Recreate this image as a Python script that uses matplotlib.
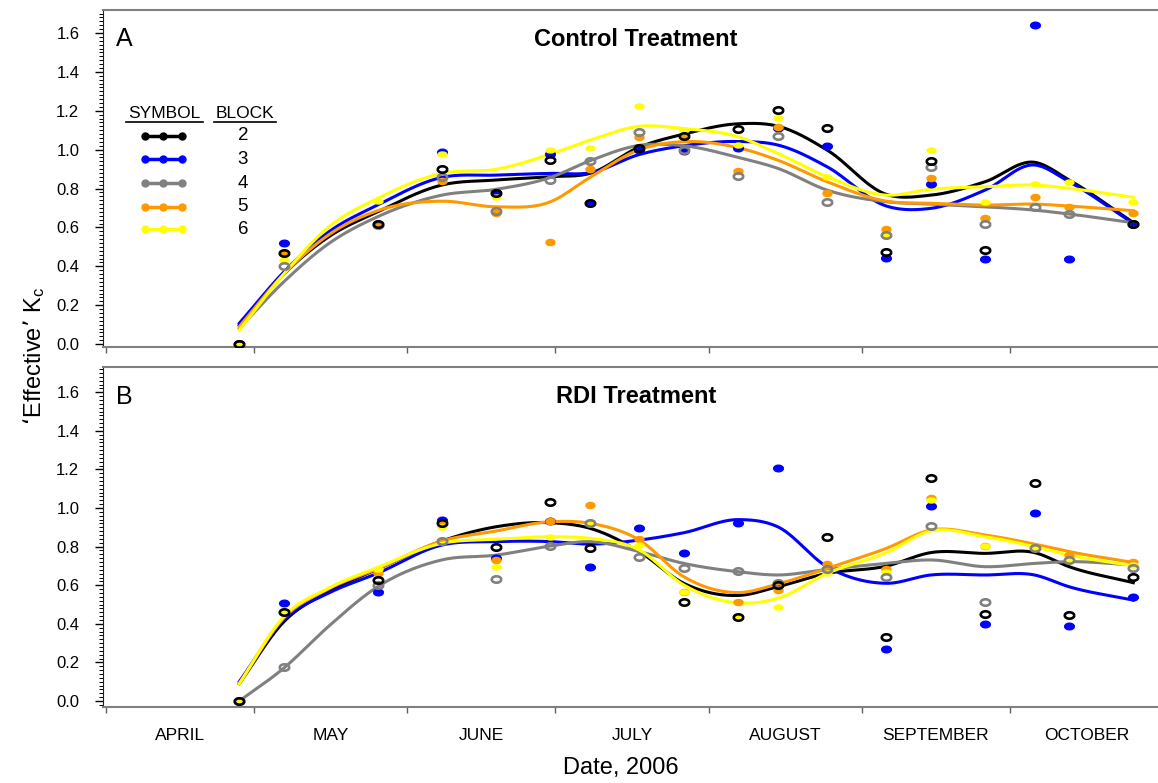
import numpy as np
import matplotlib
matplotlib.use('Agg')
import matplotlib.pyplot as plt
from matplotlib.path import Path
from matplotlib.ticker import MultipleLocator, FormatStrFormatter

plt.rcParams['font.family'] = ['Liberation Sans', 'DejaVu Sans']
plt.rcParams['mathtext.default'] = 'regular'

nan = np.nan

# measurement dates, day of year 2006
dates = [118, 127, 146, 159, 170, 181, 189, 199, 208, 219, 227, 237, 249, 258, 269, 279, 286, 299]
# days at which the smoothed curves were read
fit_dates = [118, 127, 136, 146, 159, 170, 181, 189, 199, 208, 219, 227, 237, 249, 258, 269, 279, 286, 299]
month_start = [91, 121, 152, 182, 213, 244, 274, 305]
month_names = ['APRIL', 'MAY', 'JUNE', 'JULY', 'AUGUST', 'SEPTEMBER', 'OCTOBER']

blocks = ['2', '3', '4', '5', '6']
colors = ['#000000', '#0000ff', '#808080', '#ff9900', '#ffff00']

# Control treatment, measured Kc per block
ctrl_2 = [0, 0.47, 0.62, 0.90, 0.775, 0.946, 0.727, 1.006, 1.07, 1.104, 1.204, 1.111, 0.472, 0.941, 0.484, nan, nan, 0.62]
ctrl_3 = [0, 0.52, 0.62, 0.986, 0.775, 0.98, 0.727, 1.0, 0.993, 1.006, 1.11, 1.02, 0.444, 0.825, 0.436, 1.64, 0.439, 0.62]
ctrl_4 = [0, 0.40, 0.61, 0.857, 0.686, 0.844, 0.941, 1.092, 0.998, 0.866, 1.07, 0.73, 0.56, 0.912, 0.62, 0.703, 0.669, 0.62]
ctrl_5 = [0, 0.47, 0.617, 0.837, 0.672, 0.526, 0.899, 1.066, 1.07, 0.89, 1.118, 0.775, 0.59, 0.852, 0.646, 0.758, 0.703, 0.672]
ctrl_6 = [0, 0.432, 0.735, 0.98, 0.755, 1.0, 1.01, 1.224, 1.10, 1.024, 1.161, 0.86, 0.565, 1.0, 0.732, 0.823, 0.835, 0.732]

# Control treatment, smoothed curves read at fit_dates
ctrl_fit_2 = [0.098, 0.36, 0.55, 0.68, 0.818, 0.844, 0.861, 0.878, 1.013, 1.08, 1.133, 1.121, 0.998, 0.77, 0.766, 0.835, 0.935, 0.844, 0.625]
ctrl_fit_3 = [0.107, 0.37, 0.575, 0.715, 0.857, 0.869, 0.878, 0.881, 0.975, 1.02, 1.042, 1.024, 0.912, 0.71, 0.698, 0.792, 0.921, 0.835, 0.62]
ctrl_fit_4 = [0.082, 0.32, 0.515, 0.655, 0.766, 0.796, 0.857, 0.943, 1.022, 1.02, 0.96, 0.904, 0.792, 0.732, 0.72, 0.706, 0.689, 0.669, 0.624]
ctrl_fit_5 = [0.09, 0.36, 0.56, 0.686, 0.735, 0.706, 0.732, 0.857, 1.0, 1.041, 1.01, 0.946, 0.835, 0.735, 0.724, 0.715, 0.72, 0.71, 0.686]
ctrl_fit_6 = [0.072, 0.36, 0.60, 0.749, 0.878, 0.899, 0.977, 1.049, 1.12, 1.108, 1.066, 0.981, 0.861, 0.766, 0.796, 0.809, 0.818, 0.801, 0.755]

# RDI treatment, measured Kc per block
rdi_2 = [0, 0.463, 0.625, 0.92, 0.798, 1.031, 0.791, nan, 0.515, 0.437, 0.60, 0.848, 0.333, 1.154, 0.451, 1.13, 0.447, 0.644]
rdi_3 = [0, 0.506, 0.566, 0.938, 0.74, 0.934, 0.696, 0.896, 0.769, 0.921, 1.209, nan, 0.268, 1.013, 0.399, 0.972, 0.389, 0.54]
rdi_4 = [0, 0.178, 0.60, 0.829, 0.634, 0.803, 0.921, 0.748, 0.687, 0.674, 0.613, 0.684, 0.644, 0.907, 0.515, 0.791, 0.73, 0.687]
rdi_5 = [0, 0.463, 0.662, 0.925, 0.73, 0.934, 1.016, 0.842, 0.566, 0.515, 0.575, 0.71, 0.682, 1.05, 0.805, 0.80, 0.756, 0.718]
rdi_6 = [0, 0.463, 0.684, 0.90, 0.696, 0.851, 0.921, 0.808, 0.566, 0.437, 0.489, 0.662, 0.67, 1.04, 0.805, 0.791, 0.731, 0.705]

# RDI treatment, smoothed curves read at fit_dates
rdi_fit_2 = [0.09, 0.41, 0.566, 0.683, 0.829, 0.903, 0.924, 0.895, 0.774, 0.61, 0.547, 0.592, 0.661, 0.699, 0.769, 0.765, 0.769, 0.696, 0.613]
rdi_fit_3 = [0.10, 0.42, 0.558, 0.662, 0.808, 0.826, 0.826, 0.813, 0.834, 0.872, 0.94, 0.903, 0.696, 0.61, 0.653, 0.653, 0.653, 0.592, 0.523]
rdi_fit_4 = [0.0, 0.17, 0.385, 0.592, 0.731, 0.756, 0.803, 0.826, 0.774, 0.713, 0.67, 0.653, 0.682, 0.713, 0.731, 0.696, 0.713, 0.722, 0.705]
rdi_fit_5 = [0.09, 0.43, 0.58, 0.685, 0.829, 0.881, 0.929, 0.921, 0.834, 0.644, 0.562, 0.606, 0.687, 0.791, 0.886, 0.86, 0.813, 0.774, 0.718]
rdi_fit_6 = [0.09, 0.437, 0.584, 0.692, 0.817, 0.838, 0.851, 0.843, 0.782, 0.601, 0.508, 0.532, 0.661, 0.769, 0.881, 0.851, 0.8, 0.756, 0.701]


def smooth(x, y, n=500):
    # cubic hermite through the read curve values
    x = np.asarray(x, float)
    y = np.asarray(y, float)
    m = np.gradient(y, x)
    xs = np.linspace(x[0], x[-1], n)
    i = np.clip(np.searchsorted(x, xs) - 1, 0, len(x) - 2)
    h = x[i + 1] - x[i]
    t = (xs - x[i]) / h
    ys = ((2*t**3 - 3*t**2 + 1) * y[i] + (t**3 - 2*t**2 + t) * h * m[i]
          + (-2*t**3 + 3*t**2) * y[i + 1] + (t**3 - t**2) * h * m[i + 1])
    return xs, ys


th = np.linspace(0, 2*np.pi, 41)
ell = Path(np.c_[np.cos(th), 0.68*np.sin(th)])
ell_flat = Path(np.c_[np.cos(th), 0.55*np.sin(th)])

mstyle = [
    dict(marker=ell, ms=6.8, mfc='none', mec=colors[0], mew=1.9),
    dict(marker=ell, ms=7, mfc=colors[1], mec=colors[1], mew=1),
    dict(marker=ell, ms=6.8, mfc='none', mec=colors[2], mew=1.9),
    dict(marker=ell, ms=6.5, mfc=colors[3], mec=colors[3], mew=1),
    dict(marker=ell_flat, ms=6.5, mfc=colors[4], mec=colors[4], mew=1),
]


def draw_panel(ax, pts, fits, letter, title, bottom):
    for k in range(5):
        xs, ys = smooth(fit_dates, fits[k])
        ax.plot(xs, ys, color=colors[k], lw=2.2, zorder=2)
    for k in [1, 3, 4, 2, 0]:
        ax.plot(dates, pts[k], linestyle='none', zorder=3, **mstyle[k])
    ax.set_xlim(90.4, 304)
    ax.set_xticks(month_start[:-1])
    ax.set_xticklabels([])
    mids = [(a + b) / 2.0 for a, b in zip(month_start[:-1], month_start[1:])]
    ax.set_xticks(mids, minor=True)
    if bottom:
        ax.set_xticklabels(month_names, minor=True)
    ax.tick_params(axis='x', which='major', direction='out', length=4, width=1, color='#606060')
    ax.tick_params(axis='x', which='minor', length=0, pad=15, labelsize=12.5)
    ax.set_yticks(np.arange(0, 1.61, 0.2))
    ax.yaxis.set_major_formatter(FormatStrFormatter('%.1f'))
    ax.yaxis.set_minor_locator(MultipleLocator(0.02))
    ax.tick_params(axis='y', which='major', length=6, width=1, pad=11, labelsize=12)
    ax.tick_params(axis='y', which='minor', length=3, width=0.7)
    ax.spines['right'].set_visible(False)
    ax.spines['top'].set_color('#808080')
    ax.spines['top'].set_linewidth(1.5)
    ax.spines['bottom'].set_color('#808080')
    ax.spines['bottom'].set_linewidth(1.5)
    ax.spines['left'].set_color('#202020')
    ax.text(0.012, 0.913, letter, transform=ax.transAxes, fontsize=18, va='center', ha='left')
    ax.text(0.505, 0.913, title, transform=ax.transAxes, fontsize=17, fontweight='bold',
            va='center', ha='center')


fig = plt.figure(figsize=(11.58, 7.83), dpi=100)
ax1 = fig.add_axes([0.0889, 0.5568, 0.9111, 0.4304])
ax2 = fig.add_axes([0.0889, 0.0971, 0.9111, 0.4342])

draw_panel(ax1, [ctrl_2, ctrl_3, ctrl_4, ctrl_5, ctrl_6],
           [ctrl_fit_2, ctrl_fit_3, ctrl_fit_4, ctrl_fit_5, ctrl_fit_6],
           'A', 'Control Treatment', False)
draw_panel(ax2, [rdi_2, rdi_3, rdi_4, rdi_5, rdi_6],
           [rdi_fit_2, rdi_fit_3, rdi_fit_4, rdi_fit_5, rdi_fit_6],
           'B', 'RDI Treatment', True)
ax1.set_ylim(-0.015, 1.718)
ax2.set_ylim(-0.031, 1.731)

# legend drawn by hand: SYMBOL / BLOCK
tr = ax1.transAxes
ax1.text(0.058, 0.694, 'SYMBOL', transform=tr, fontsize=12.5, ha='center', va='center')
ax1.text(0.1346, 0.694, 'BLOCK', transform=tr, fontsize=12.5, ha='center', va='center')
ax1.plot([0.0218, 0.0948], [0.668, 0.668], color='black', lw=1.2, transform=tr, clip_on=False)
ax1.plot([0.1052, 0.164], [0.668, 0.668], color='black', lw=1.2, transform=tr, clip_on=False)
rows = [0.627, 0.557, 0.4855, 0.416, 0.349]
for k in range(5):
    ax1.plot([0.0395, 0.0569, 0.0745], [rows[k]] * 3, '-o', color=colors[k], lw=2.5, ms=5,
             transform=tr, clip_on=False)
    ax1.text(0.1327, rows[k], blocks[k], transform=tr, fontsize=13.5, ha='center', va='center')

fig.text(0.029, 0.545, '\u2018Effective\u2019 K$_c$', rotation=90, fontsize=17,
         ha='center', va='center')
fig.text(0.536, 0.019, 'Date, 2006', fontsize=17, ha='center', va='center')

fig.savefig('out.png', dpi=100)
